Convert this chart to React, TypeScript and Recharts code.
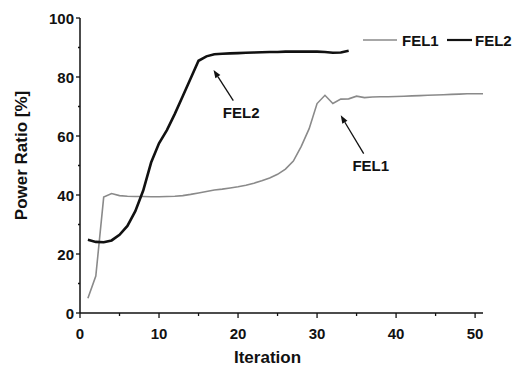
import React from 'react';
import { LineChart, Line, XAxis, YAxis, ReferenceLine, ReferenceDot, Label } from 'recharts';

const iterations1 = [1,2,3,4,5,6,7,8,9,10,11,12,13,14,15,16,17,18,19,20,21,22,23,24,25,26,27,28,29,30,31,32,33,34,35,36,37,38,39,40,41,42,43,44,45,46,47,48,49,50,51];
const fel1Values = [5,12.5,39.3,40.5,39.8,39.6,39.5,39.5,39.4,39.4,39.5,39.6,39.8,40.2,40.7,41.2,41.7,42.0,42.4,42.8,43.3,44.0,44.8,45.8,47.0,48.8,51.5,56.5,62.5,71.0,73.8,71.0,72.5,72.6,73.5,73.0,73.2,73.3,73.3,73.4,73.5,73.6,73.7,73.8,73.9,74.0,74.1,74.2,74.3,74.3,74.3];
const iterations2 = [1,2,3,4,5,6,7,8,9,10,11,12,13,14,15,16,17,18,19,20,21,22,23,24,25,26,27,28,29,30,31,32,33,34];
const fel2Values = [24.8,24.1,24.0,24.6,26.5,29.5,34.5,41.5,51.0,57.5,62.0,67.5,73.5,79.5,85.5,87.0,87.7,87.9,88.0,88.1,88.2,88.3,88.4,88.5,88.5,88.6,88.6,88.6,88.6,88.6,88.5,88.2,88.3,88.9];

const xTicks = [0,5,10,15,20,25,30,35,40,45,50];
const yTicks = [0,10,20,30,40,50,60,70,80,90,100];

const seriesNames = ['FEL1', 'FEL2'];
const seriesColors = ['#8a8a8a', '#111111'];
const xTitle = 'Iteration';
const yTitle = 'Power Ratio [%]';

// annotations: [tailX, tailY, headX, headY], label position
const arrowFEL2 = [19.4, 72.0, 16.9, 82.4];
const labelFEL2 = [20.4, 68.0];
const arrowFEL1 = [35.9, 54.0, 33.0, 67.0];
const labelFEL1 = [36.8, 50.0];

const fel1Data = iterations1.map((x, i) => ({ x, v: fel1Values[i] }));
const fel2Data = iterations2.map((x, i) => ({ x, v: fel2Values[i] }));

const FONT = "'Liberation Sans', Arial, sans-serif";
const FS = 15;
const FW = 700;

const YTick = (props: any) => {
  const { x, y, payload } = props;
  const major = payload.value % 20 === 0;
  return (
    <g>
      <line x1={x - (major ? 4 : 2)} y1={y} x2={x} y2={y} stroke="#111" strokeWidth={1.3} />
      {major && (
        <text x={x - 6} y={y} dy={5.5} textAnchor="end" fontSize={FS} fontWeight={FW} fontFamily={FONT} fill="#111">
          {payload.value}
        </text>
      )}
    </g>
  );
};

const XTick = (props: any) => {
  const { x, y, payload } = props;
  const major = payload.value % 10 === 0;
  return (
    <g>
      <line x1={x} y1={y} x2={x} y2={y + (major ? 5 : 3)} stroke="#111" strokeWidth={1.3} />
      {major && (
        <text x={x} y={y + 26} textAnchor="middle" fontSize={FS} fontWeight={FW} fontFamily={FONT} fill="#111">
          {payload.value}
        </text>
      )}
    </g>
  );
};

const Arrow = (props: any) => {
  const { x1, y1, x2, y2 } = props;
  const ang = Math.atan2(y2 - y1, x2 - x1);
  const L = 8, W = 3;
  const bx = x2 - L * Math.cos(ang), by = y2 - L * Math.sin(ang);
  const px = -Math.sin(ang) * W, py = Math.cos(ang) * W;
  return (
    <g>
      <line x1={x1} y1={y1} x2={bx} y2={by} stroke="#111" strokeWidth={1.3} />
      <polygon points={`${x2},${y2} ${bx + px},${by + py} ${bx - px},${by - py}`} fill="#111" />
    </g>
  );
};

const makeLabel = (text: string) => (p: any) => (
  <text x={p.cx} y={p.cy} dy={5.5} textAnchor="middle" fontSize={FS} fontWeight={FW} fontFamily={FONT} fill="#111">{text}</text>
);

export default function App() {
  return (
    <div style={{ position: 'absolute', left: 0, top: 0, width: 520, height: 368, background: '#fff' }}>
      <LineChart width={520} height={368} margin={{ top: 18, right: 37, bottom: 0, left: 0 }}>
        <XAxis
          type="number"
          dataKey="x"
          domain={[0, 51]}
          ticks={xTicks}
          allowDataOverflow
          height={55}
          tickSize={0}
          tickMargin={0}
          tickLine={false}
          tick={<XTick />}
          axisLine={{ stroke: '#111', strokeWidth: 1.5 }}
        >
          <Label
            content={(p: any) => (
              <text x={p.viewBox.x + p.viewBox.width / 2 - 14} y={p.viewBox.y + 50} textAnchor="middle" fontSize={17} fontWeight={FW} fontFamily={FONT} fill="#111">
                {xTitle}
              </text>
            )}
          />
        </XAxis>
        <YAxis
          type="number"
          domain={[0, 100]}
          ticks={yTicks}
          width={80}
          tickSize={0}
          tickMargin={0}
          tickLine={false}
          tick={<YTick />}
          axisLine={{ stroke: '#111', strokeWidth: 1.5 }}
        >
          <Label
            content={(p: any) => {
              const cx = 21;
              const cy = p.viewBox.y + p.viewBox.height / 2 - 10;
              return (
                <text x={cx} y={cy} transform={`rotate(-90 ${cx} ${cy})`} dy={6} textAnchor="middle" fontSize={17} fontWeight={FW} fontFamily={FONT} fill="#111">
                  {yTitle}
                </text>
              );
            }}
          />
        </YAxis>
        <Line data={fel1Data} dataKey="v" name={seriesNames[0]} type="linear" stroke={seriesColors[0]} strokeWidth={1.6} dot={false} isAnimationActive={false} />
        <Line data={fel2Data} dataKey="v" name={seriesNames[1]} type="linear" stroke={seriesColors[1]} strokeWidth={2.6} dot={false} isAnimationActive={false} />
        <ReferenceLine segment={[{ x: arrowFEL2[0], y: arrowFEL2[1] }, { x: arrowFEL2[2], y: arrowFEL2[3] }]} shape={Arrow} />
        <ReferenceLine segment={[{ x: arrowFEL1[0], y: arrowFEL1[1] }, { x: arrowFEL1[2], y: arrowFEL1[3] }]} shape={Arrow} />
        <ReferenceDot x={labelFEL2[0]} y={labelFEL2[1]} r={0} shape={makeLabel('FEL2')} />
        <ReferenceDot x={labelFEL1[0]} y={labelFEL1[1]} r={0} shape={makeLabel('FEL1')} />
      </LineChart>
      <svg width={160} height={20} style={{ position: 'absolute', left: 360, top: 30 }}>
        <line x1={3} y1={10} x2={37} y2={10} stroke={seriesColors[0]} strokeWidth={1.6} />
        <text x={42} y={15.5} fontSize={FS} fontWeight={FW} fontFamily={FONT} fill="#111">{seriesNames[0]}</text>
        <line x1={87} y1={10} x2={112} y2={10} stroke={seriesColors[1]} strokeWidth={2.2} />
        <text x={115} y={15.5} fontSize={FS} fontWeight={FW} fontFamily={FONT} fill="#111">{seriesNames[1]}</text>
      </svg>
    </div>
  );
}
